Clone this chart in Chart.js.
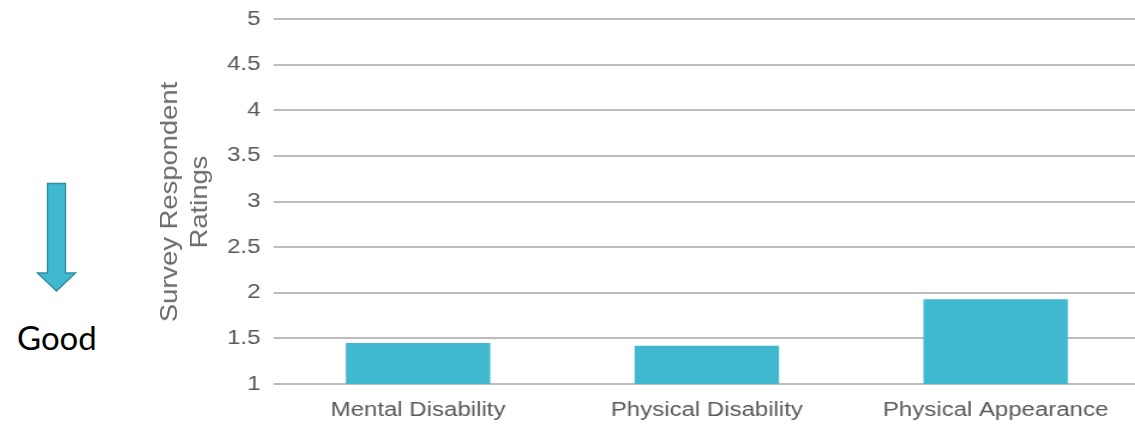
<!DOCTYPE html>
<html>
<head>
<meta charset="utf-8">
<script src="https://cdn.jsdelivr.net/npm/chart.js@4/dist/chart.umd.min.js"></script>
<style>
  html, body { margin: 0; padding: 0; background: #ffffff; width: 1135px; height: 425px; overflow: hidden; }
  #stage { position: absolute; left: 0; top: 0; width: 950px; height: 425px; transform: scaleX(1.2); transform-origin: 0 0; }
  #side { position: absolute; left: 0; top: 0; }
  #ytitle {
    position: absolute; left: 184px; top: 201.5px;
    transform: translate(-50%, -50%) rotate(-90deg) scaleX(1.14);
    font-family: 'Liberation Sans', Arial, sans-serif; font-size: 24px; line-height: 30px;
    color: #6a6a6a; text-align: center; white-space: nowrap;
  }
</style>
</head>
<body>
<!-- "Good" direction marker on the left -->
<svg id="side" width="140" height="425" xmlns="http://www.w3.org/2000/svg">
  <path d="M47.5 183.5 H65.5 V273 H75.5 L56.5 291 L37.5 273 H47.5 Z" fill="#40b9d0" stroke="#2e8ea2" stroke-width="1.4" stroke-linejoin="miter"/>
  <text x="17" y="350" font-family="Lato, 'Open Sans', sans-serif" font-size="33" fill="#000000">Good</text>
</svg>
<div id="stage"><canvas id="chart" width="950" height="425"></canvas></div>
<div id="ytitle"></div>
<script>
// Discrimination categories and their mean ratings
const categories = ['Mental Disability', 'Physical Disability', 'Physical Appearance'];
const meanRatings = [1.45, 1.42, 1.93];
const ratingTicks = [1, 1.5, 2, 2.5, 3, 3.5, 4, 4.5, 5];
const axisTitle = ['Survey Respondent', 'Ratings'];

const labelColor = '#595959';
const barColor = '#40b9d0';

// value-axis title, two lines
document.getElementById('ytitle').innerHTML = axisTitle.join('<br>');

new Chart(document.getElementById('chart'), {
  type: 'bar',
  data: {
    labels: categories,
    datasets: [{
      data: meanRatings,
      backgroundColor: barColor,
      borderWidth: 0,
      barPercentage: 0.5,
      categoryPercentage: 1.0
    }]
  },
  options: {
    responsive: false,
    animation: false,
    devicePixelRatio: 1,
    layout: { padding: { left: 130, top: 19, right: 0, bottom: 0 } },
    plugins: { legend: { display: false }, tooltip: { enabled: false } },
    scales: {
      x: {
        grid: { display: false, drawTicks: false },
        border: { display: false },
        ticks: {
          color: labelColor,
          padding: 14,
          maxRotation: 0,
          autoSkip: false,
          font: { family: "'Liberation Sans', Arial, sans-serif", size: 20 }
        },
        afterFit(scale) { scale.height = 41; }
      },
      y: {
        min: 1,
        max: 5,
        afterBuildTicks(scale) { scale.ticks = ratingTicks.map(v => ({ value: v })); },
        grid: { color: '#bcbcbc', lineWidth: 2, drawTicks: false },
        border: { display: false },
        ticks: {
          color: labelColor,
          padding: 11,
          font: { family: "'Liberation Sans', Arial, sans-serif", size: 20 },
          callback: v => String(v)
        },
        title: { display: false },
        afterFit(scale) {
          scale.width = 98;
          scale.paddingTop = 0;
          scale.paddingBottom = 0;
        }
      }
    }
  }
});
</script>
</body>
</html>
